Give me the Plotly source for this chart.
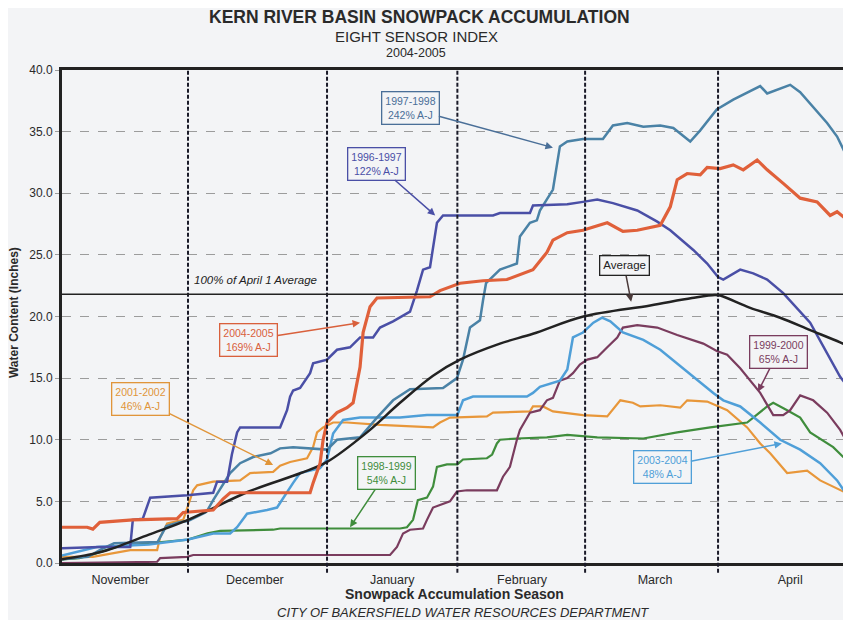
import plotly.graph_objects as go

FONT = "Liberation Sans, Arial, Helvetica, sans-serif"
BG = "#f3f4f6"

# ---- axes / labels ----
months = ["November", "December", "January", "February", "March", "April"]
month_mid = [13.4, 44.4, 76.0, 105.9, 136.5, 167.6]       # day of season for label centres
month_starts = [29, 61, 91, 120.4, 151]                   # month divider days
y_ticks = [0, 5, 10, 15, 20, 25, 30, 35, 40]
april1_avg = 21.8

# ---- series (day of season since Nov 1, inches) ----
avg_day = [0, 5, 10, 20, 29, 43, 55, 61, 70.2, 77.8, 85.4, 91.6, 100.8, 108.4, 120, 135.4, 145, 150.3,
           151.5, 158.4, 165.3, 172.2, 179.1, 181.6]
avg_val = [0.3, 0.6, 1.0, 2.3, 3.5, 5.8, 7.3, 8.2, 10.6, 13.0, 15.2, 16.5, 17.8, 18.6, 20.0, 20.9, 21.5, 21.75,
           21.7, 20.7, 19.9, 18.9, 17.9, 17.5]

y0405_day = [0, 5.8, 7.1, 8.7, 16.3, 26.5, 27.9, 34.8, 37.1, 38.7, 57.1, 57.8, 59.4, 60.1, 61, 63.3, 65.6, 67,
             68.6, 69.3, 70.9, 72.5, 84.7, 87, 91.6, 96.9, 102.4, 108.4, 111.6, 113, 116.3, 119.9, 125.5, 129.1,
             132.4, 137.7, 140, 141.6, 143.9, 146.9, 148.5, 151.5, 154.5, 156.8, 160, 162.3, 166, 169.9, 173.8,
             176.8, 178.4, 181.6]
y0405_val = [2.9, 2.9, 2.75, 3.3, 3.5, 3.6, 4.1, 4.3, 5.2, 5.7, 5.7, 6.5, 8.1, 10.0, 11.4, 12.2, 12.6, 13.0,
             15.9, 18.7, 20.8, 21.5, 21.6, 22.1, 22.7, 22.9, 23.0, 23.8, 25.2, 26.2, 26.8, 27.0, 27.6, 26.9,
             27.0, 27.4, 28.9, 31.1, 31.6, 31.5, 32.1, 32.0, 32.3, 31.9, 32.7, 31.9, 30.8, 29.6, 29.3,
             28.2, 28.5, 27.6]

y9798_day = [0, 6, 9, 12, 22, 24, 27, 29, 33, 33.5, 34.8, 38.7, 41, 44, 48, 50.2, 53.2, 57.8, 61, 63.3, 68.6,
             72.5, 76.2, 80.1, 87.7, 90.9, 92.3, 93.9, 96.2, 96.9, 97.6, 100.8, 104.7, 105.4, 107.7, 109.3, 110,
             113, 114.6, 116.3, 119.9, 124.5, 126.8, 130.1, 133.8, 137.7, 140.7, 144.6, 146.9, 150.7, 154.5,
             160.7, 162.3, 167.6, 169.9, 176.1, 178.4, 181.6]
y9798_val = [0.3, 0.5, 1.1, 1.6, 1.7, 3.0, 3.3, 3.4, 4.1, 4.3, 5.1, 7.3, 8.1, 8.6, 8.9, 9.3, 9.4, 9.3, 9.2, 10.0, 10.2,
             11.8, 13.2, 14.1, 14.2, 15.0, 16.5, 19.1, 19.7, 21.3, 22.7, 23.8, 24.3, 26.5, 27.6, 27.8, 28.6,
             30.3, 33.8, 34.2, 34.4, 34.4, 35.5, 35.7, 35.4, 35.5, 35.3, 34.2, 35.1, 36.8, 37.6,
             38.7, 38.1, 38.8, 38.2, 35.7, 34.6, 32.3]

y9697_day = [0, 8.7, 15.7, 16.3, 18.6, 20.3, 28.8, 34.8, 35.7, 38, 39.1, 40.3, 41, 50.2, 51.8, 52.5, 53.2, 54.8,
             57.1, 57.8, 61, 63.3, 66.3, 68.6, 71.6, 73.2, 76.2, 78.5, 80.1, 81.7, 83.1, 84.7, 86.3, 87.7, 99.2,
             100.8, 107.7, 108.4, 116.3, 119.9, 123.2, 126.8, 132.4, 137, 140, 145.3, 148.5, 151, 152.2, 156.1,
             159.1, 162.3, 166, 172.2, 176.1, 179.1, 181.6]
y9697_val = [1.2, 1.3, 1.3, 3.5, 3.6, 5.3, 5.5, 5.7, 6.6, 6.6, 8.8, 10.6, 11.0, 11.0, 12.4, 13.5, 14.0, 14.2,
             15.4, 16.2, 16.5, 17.3, 17.5, 18.3, 18.3, 19.1, 19.6, 20.1, 20.4, 22.1, 23.8, 24.0, 27.6, 28.2, 28.2,
             28.4, 28.4, 29.0, 29.1, 29.3, 29.5, 29.2, 28.6, 27.7, 27.0, 25.4, 24.3, 23.2, 23.0, 23.8,
             23.5, 23.0, 21.9, 19.5, 17.0, 15.1, 14.0]

y0102_day = [0, 7.1, 15.7, 21.9, 22.6, 24.2, 27.9, 28.8, 30.2, 31.1, 34.8, 41, 43.3, 48.6, 50.2, 52.5, 56.4, 57.8,
             58.7, 60.1, 62.4, 65.6, 73.2, 85.4, 87, 89.3, 97.8, 99.2, 107.7, 108.4, 110.7, 113, 119.9, 125.5,
             128.5, 131.4, 133.1, 137.7, 142.3, 143.9, 148.5, 153.1, 157.7, 160.7, 163, 166.9, 171.5, 174.5,
             177.5, 181.6]
y0102_val = [0.5, 0.5, 1.05, 1.05, 2.1, 3.2, 3.5, 4.5, 5.9, 6.3, 6.6, 6.7, 7.3, 7.4, 7.9, 8.2, 8.5, 9.4,
             10.6, 11.0, 11.4, 11.4, 11.2, 11.0, 11.4, 11.8, 11.9, 12.2, 12.3, 12.7, 12.7, 12.3, 12.0, 11.9,
             13.2, 13.0, 12.7, 12.8, 12.6, 13.2, 13.1, 12.4, 11.0, 9.7, 8.9, 7.3, 7.5, 6.7,
             6.2, 5.5]

y9899_day = [0, 4, 8, 12.5, 20, 29, 33.5, 36.4, 48.6, 50.2, 77.8, 79.4, 80.8, 81.9, 84, 85.4, 86.3, 88.6, 91,
             92.3, 97.8, 99, 100.1, 100.8, 104.7, 111.6, 116.3, 123.2, 133.8, 141.6, 149.2, 157.7, 162.3, 163.7,
             166.9, 169.9, 172.2, 174.5, 177.5, 179.8, 181.6]
y9899_val = [0.3, 0.4, 0.8, 1.3, 1.6, 1.9, 2.4, 2.6, 2.7, 2.8, 2.8, 2.9, 3.5, 5.1, 5.3, 6.2, 7.8, 8.0, 8.0,
             8.4, 8.5, 8.8, 9.7, 10.0, 10.1, 10.2, 10.4, 10.2, 10.1, 10.6, 11.0, 11.4, 12.7, 13.0,
             12.4, 11.8, 10.6, 10.1, 9.4, 8.6, 8.6]

y9900_day = [0, 21.9, 22.6, 28.8, 30.2, 75.5, 77.1, 78.5, 80.1, 83.1, 84, 85.4, 89.3, 90.9, 93.2, 100.1, 101.5,
             103.1, 104.7, 105.4, 107.7, 110, 111.6, 113, 114.6, 116.3, 117.6, 119.2, 120.9, 123.2, 125.5, 127.8,
             129.1, 132.4, 137, 141.6, 147.6, 150.7, 153.1, 156.1, 160.7, 163, 163.7, 166, 167.6, 169.9, 172.9,
             176.1, 179.1, 181.6]
y9900_val = [0.0, 0.1, 0.4, 0.5, 0.65, 0.65, 1.3, 2.4, 2.7, 2.8, 3.5, 4.5, 5.0, 5.8, 5.9, 5.9, 7.0,
             7.8, 10.0, 10.8, 12.2, 12.4, 13.2, 13.4, 14.8, 15.0, 15.4, 16.1, 16.5, 16.7, 17.5, 18.3,
             19.1, 19.3, 19.1, 18.5, 17.8, 17.2, 16.9, 15.8, 13.8, 12.4, 12.0, 12.0, 12.4, 13.6, 13.2,
             12.2, 10.8, 9.2]

y0304_day = [0, 5, 8, 20, 29, 34.8, 38.7, 40.3, 42.6, 47.2, 49.5, 53.2, 54.8, 59.4, 61, 62.4, 64.7, 68.6, 77.8,
             84, 91, 92.3, 94.6, 107, 108.4, 110, 114.6, 116.3, 117.6, 119.9, 122.3, 124.3, 126.2, 129.1, 133.8,
             137.7, 143.2, 147, 149.9, 152.2, 156.1, 160.7, 165.3, 169.9, 174.5, 178.4, 181.6]
y0304_val = [0.6, 1.0, 1.3, 1.5, 1.9, 2.4, 2.4, 2.9, 4.0, 4.3, 4.5, 6.5, 7.3, 7.7, 8.4, 10.5, 11.6, 11.8, 11.8,
             12.0, 12.0, 13.2, 13.5, 13.5, 13.8, 14.3, 14.8, 15.7, 18.3, 18.7, 19.5, 19.9, 19.6, 18.7, 18.1,
             17.3, 15.7, 14.6, 13.8, 13.2, 12.7, 11.4, 10.0, 9.2, 8.1, 6.7, 5.0]

series = [
    ("2001-2002", y0102_day, y0102_val, "#e8973a", 2.2, "linear"),
    ("1998-1999", y9899_day, y9899_val, "#3f8d3c", 2.2, "linear"),
    ("1999-2000", y9900_day, y9900_val, "#7a3c5e", 2.2, "linear"),
    ("2003-2004", y0304_day, y0304_val, "#4f9fd8", 2.5, "linear"),
    ("1997-1998", y9798_day, y9798_val, "#4a82a6", 2.5, "linear"),
    ("1996-1997", y9697_day, y9697_val, "#4a4fa6", 2.5, "linear"),
    ("Average", avg_day, avg_val, "#222222", 2.5, "spline"),
    ("2004-2005", y0405_day, y0405_val, "#e0603a", 3.2, "linear"),
]

fig = go.Figure()
for name, d, v, c, w, shp in series:
    fig.add_trace(go.Scatter(x=d, y=v, mode="lines", name=name,
                             line=dict(color=c, width=w, shape=shp), showlegend=False))

# month dividers
for m in month_starts:
    fig.add_shape(type="line", xref="x", yref="paper", x0=m, x1=m, y0=-0.02, y1=1,
                  line=dict(color="#1a1a28", width=2, dash="4px,2px"))
# April 1 average reference
fig.add_shape(type="line", xref="paper", yref="y", x0=0, x1=1, y0=april1_avg, y1=april1_avg,
              line=dict(color="#222222", width=1.6))

# callout labels: (text, box x, box y, head x, head y, colour)
callouts = [
    ("1997-1998<br>242% A-J", 80.1, 36.9, 113.0, 33.7, "#4a6f98"),
    ("1996-1997<br>122% A-J", 72.3, 32.4, 85.9, 28.2, "#4a4fa6"),
    ("2004-2005<br>169% A-J", 43.0, 18.1, 68.6, 19.5, "#d9603c"),
    ("2001-2002<br>46% A-J", 18.0, 13.3, 48.6, 7.95, "#e0953a"),
    ("1998-1999<br>54% A-J", 74.6, 7.3, 66.3, 2.9, "#3f8d3c"),
    ("1999-2000<br>65% A-J", 164.8, 17.1, 160.2, 13.9, "#7a3c5e"),
    ("2003-2004<br>48% A-J", 138.1, 7.8, 165.7, 9.7, "#4f9fd8"),
    ("Average", 129.4, 24.1, 131.0, 21.2, "#222222"),
]
for txt, bx, by, hx, hy, c in callouts:
    fig.add_annotation(x=hx, y=hy, ax=bx, ay=by, xref="x", yref="y", axref="x", ayref="y",
                       text=txt, showarrow=True, arrowhead=2, arrowsize=1, arrowwidth=1.5,
                       arrowcolor=c if txt != "Average" else "#4a3a3a",
                       font=dict(family=FONT, size=11.5 if txt == "Average" else 10.5, color=c),
                       bordercolor=c, borderwidth=1.3, borderpad=3, bgcolor=BG)

fig.add_annotation(x=29.9, y=23.0, xref="x", yref="y", text="<i>100% of April 1 Average</i>",
                   showarrow=False, xanchor="left", yanchor="middle",
                   font=dict(family=FONT, size=11.5, color="#222222"))

# titles (paper coords relative to the plot area)
def paper_note(text, x, y, size, angle=0):
    fig.add_annotation(x=x, y=y, xref="paper", yref="paper", showarrow=False, text=text,
                       xanchor="center", yanchor="middle", textangle=angle,
                       font=dict(family=FONT, size=size, color="#2a2a2a"))

paper_note("<b>KERN RIVER BASIN SNOWPACK ACCUMULATION</b>", 0.4537, 1.1075, 17.5)
paper_note("EIGHT SENSOR INDEX", 0.4487, 1.067, 15)
paper_note("2004-2005", 0.4487, 1.0345, 12.5)
paper_note("<b>Snowpack Accumulation Season</b>", 0.498, -0.0629, 14)
paper_note("<i>CITY OF BAKERSFIELD WATER RESOURCES DEPARTMENT</i>", 0.508, -0.0994, 13)
paper_note("<b>Water Content (Inches)</b>", -0.0608, 0.507, 12, angle=-90)

fig.update_layout(
    width=843, height=612,
    margin=dict(l=54, r=0, t=62, b=57),
    paper_bgcolor=BG, plot_bgcolor=BG,
    font=dict(family=FONT, color="#2a2a2a"),
    xaxis=dict(range=[0, 181.6], tickvals=month_mid, ticktext=months, showgrid=False, zeroline=False,
               showline=True, linewidth=3, linecolor="#222222", mirror=True, ticks="",
               ticklabelstandoff=3, tickfont=dict(family=FONT, size=12.5, color="#2a2a2a")),
    yaxis=dict(range=[0, 40], tickvals=y_ticks, tickformat=".1f", showgrid=True, gridcolor="#9c9c9c",
               griddash="dash", gridwidth=1, zeroline=False, showline=True, linewidth=3,
               linecolor="#222222", ticks="outside", ticklen=4, tickcolor="#9c9c9c",
               tickfont=dict(family=FONT, size=12, color="#2a2a2a")),
)

fig.write_html("out.html")
